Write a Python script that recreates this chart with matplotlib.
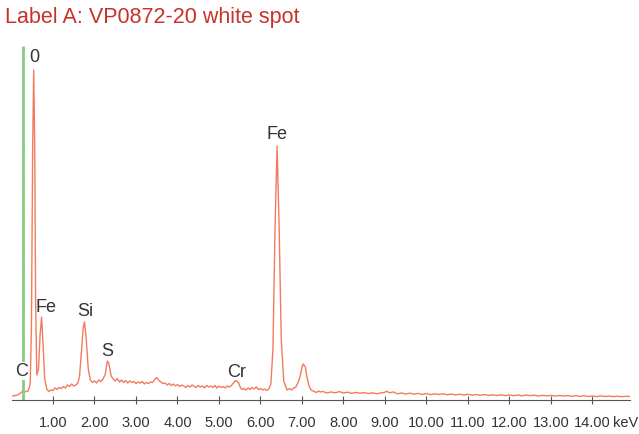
import matplotlib
matplotlib.use("Agg")
import matplotlib.pyplot as plt
from matplotlib import font_manager

# espectro EDS leido a ojo de la imagen (keV, cuentas)
energia = [0.02, 0.15, 0.25, 0.28, 0.32, 0.40, 0.45, 0.48, 0.51, 0.535, 0.56, 0.58,
           0.61, 0.65, 0.69, 0.725, 0.76, 0.80,
           0.85, 0.90, 0.95, 1.00, 1.05, 1.10, 1.15, 1.20, 1.25, 1.30, 1.35, 1.40,
           1.45, 1.50, 1.55, 1.60,
           1.64, 1.68, 1.73, 1.76, 1.80, 1.85, 1.90, 1.95, 2.00, 2.05, 2.10, 2.15,
           2.20, 2.26, 2.31, 2.35, 2.40, 2.45, 2.50, 2.55, 2.60, 2.65, 2.70, 2.75,
           2.80, 2.85, 2.90, 2.95, 3.00, 3.05, 3.10, 3.15, 3.20, 3.25, 3.30, 3.35,
           3.40, 3.45, 3.50, 3.55, 3.60, 3.65, 3.70, 3.75, 3.80, 3.85, 3.90, 3.95,
           4.00, 4.05, 4.10, 4.15, 4.20, 4.25, 4.30, 4.35, 4.40, 4.45, 4.50, 4.55,
           4.60, 4.65, 4.70, 4.75, 4.80, 4.85, 4.90, 4.95, 5.00, 5.05, 5.10, 5.15,
           5.20, 5.25, 5.30, 5.35, 5.40, 5.44, 5.48, 5.52, 5.56, 5.60, 5.65, 5.70,
           5.75, 5.80, 5.85, 5.90, 5.95, 6.00, 6.05, 6.10, 6.15, 6.20,
           6.25, 6.30, 6.35, 6.40, 6.45, 6.50, 6.56,
           6.64, 6.70, 6.75, 6.80, 6.85, 6.90, 6.95, 7.00, 7.03, 7.08, 7.12, 7.17,
           7.22, 7.27, 7.35, 7.40, 7.45,
           7.50, 7.60, 7.70, 7.80, 7.90, 8.00, 8.10, 8.20, 8.30, 8.40, 8.50, 8.60,
           8.70, 8.80, 8.90, 9.00, 9.05, 9.10, 9.20, 9.30, 9.40, 9.50, 9.60, 9.70,
           9.80, 9.90, 10.0, 10.1, 10.2, 10.3, 10.4, 10.5, 10.6, 10.7, 10.8, 10.9,
           11.0, 11.1, 11.2, 11.3, 11.4, 11.5, 11.6, 11.7, 11.8, 11.9, 12.0, 12.1,
           12.2, 12.3, 12.4, 12.5, 12.6, 12.7, 12.8, 12.9, 13.0, 13.1, 13.2, 13.3,
           13.4, 13.5, 13.6, 13.7, 13.8, 13.9, 14.0, 14.1, 14.2, 14.3, 14.4, 14.5,
           14.6, 14.7, 14.8, 14.9]
cuentas = [40, 50, 80, 100, 80, 90, 160, 710, 2510, 3300, 2510, 1010,
           250, 310, 660, 830, 560, 210,
           110, 85, 100, 95, 120, 105, 125, 115, 135, 120, 150, 135,
           160, 140, 150, 170,
           240, 460, 730, 780, 610, 310, 200, 175, 190, 170, 200, 185,
           205, 260, 390, 360, 240, 210, 190, 215, 180, 200, 175, 195,
           170, 190, 175, 185, 165, 180, 170, 185, 160, 175, 165, 180,
           175, 205, 225, 195, 180, 165, 170, 150, 165, 145, 160, 140,
           155, 135, 150, 140, 125, 145, 130, 150, 135, 125, 145, 130,
           140, 120, 145, 130, 140, 125, 145, 120, 140, 125, 135, 120,
           140, 130, 145, 170, 195, 185, 165, 120, 105, 115, 100, 120,
           105, 125, 110, 130, 105, 115, 100, 110, 95, 110,
           160, 510, 1710, 2540, 1710, 610, 190,
           100, 115, 100, 120, 130, 170, 230, 330, 360, 330, 230, 140,
           100, 90, 75, 90, 80,
           85, 70, 80, 72, 84, 70, 78, 66, 76, 68, 74, 64,
           72, 62, 70, 78, 88, 72, 80, 62, 70, 60, 68, 58,
           66, 56, 64, 54, 62, 55, 63, 52, 60, 50, 58, 50,
           57, 48, 55, 47, 54, 46, 52, 45, 53, 44, 51, 43,
           50, 42, 49, 44, 48, 40, 47, 41, 46, 39, 45, 40,
           44, 37, 43, 36, 42, 35, 40, 34, 41, 35, 39, 34,
           38, 33, 37, 35]

# etiquetas de los elementos (centro del texto)
elementos = ["C", "0", "Fe", "Si", "S", "Cr", "Fe"]
pos_elem = [0.25, 0.54, 0.83, 1.77, 2.30, 5.43, 6.40]
alt_elem = [290, 3430, 940, 890, 490, 280, 2660]

marca_c = 0.277
ticks = list(range(1, 15))
tick_labels = ["%.2f" % t for t in ticks]

nombres = [f.name for f in font_manager.fontManager.ttflist]
fuente = "Liberation Sans Narrow" if "Liberation Sans Narrow" in nombres else "Liberation Sans"

fig = plt.figure(figsize=(6.39, 4.35), dpi=100)
ax = fig.add_axes([12 / 639, 34 / 435, 618 / 639, 361 / 435])
ax.set_xlim(0.012, 14.904)
ax.set_ylim(0, 3610)

ax.plot(energia, cuentas, color="#f27b5c", lw=1.0)
ax.vlines(marca_c, 0, 3540, color="#86cc80", lw=2)

for e, x, y in zip(elementos, pos_elem, alt_elem):
    caja = dict(facecolor="white", edgecolor="none", pad=0.5) if e == "C" else None
    ax.text(x, y, e, ha="center", va="center", fontsize=13, color="#333333",
            family=fuente, bbox=caja)

for s in ["top", "right", "left"]:
    ax.spines[s].set_visible(False)
ax.spines["bottom"].set_color("#555555")
ax.set_yticks([])
ax.set_xticks(ticks)
ax.set_xticklabels(tick_labels, family=fuente, fontsize=10.5, color="#333333")
ax.tick_params(axis="x", direction="inout", length=6, color="#555555", pad=8)
ax.annotate("keV", xy=(14.5, 0), xytext=(0, -11), textcoords="offset points",
            ha="left", va="top", family=fuente, fontsize=10.5, color="#333333",
            annotation_clip=False)

fig.text(5 / 639, 1 - 18 / 435, "Label A: VP0872-20 white spot", ha="left", va="center",
         fontsize=15.5, color="#c8322a", family="Liberation Sans")

fig.savefig("out.png", dpi=100)
